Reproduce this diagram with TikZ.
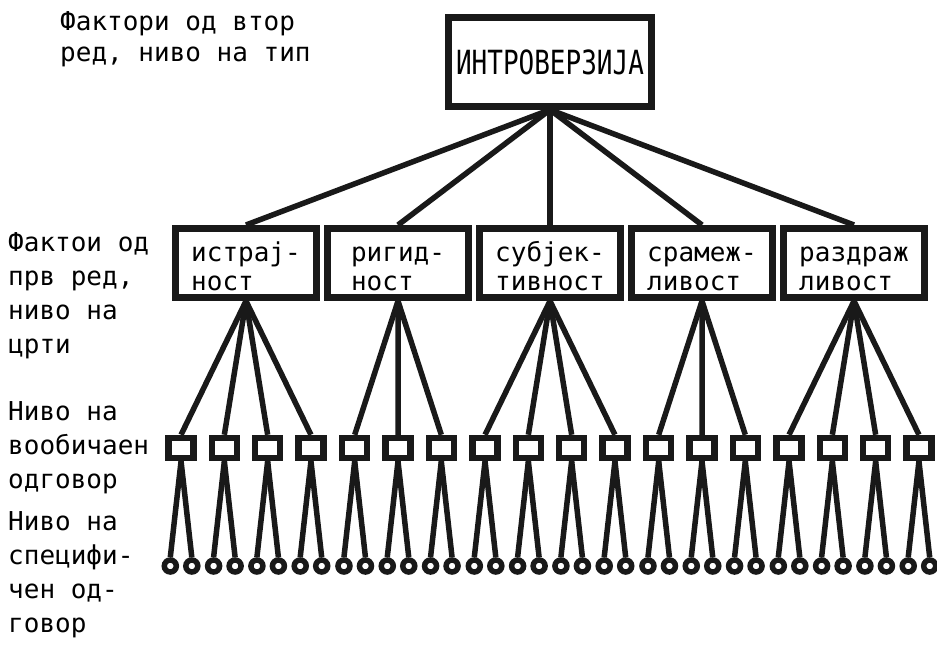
\documentclass[tikz,border=0pt]{standalone}
\usepackage{fontspec}
\usepackage{graphicx}
\usetikzlibrary{positioning,trees}
\newfontfamily\tw{DejaVu Sans Mono}
\newcommand{\tstrut}{\rule{0pt}{27pt}}
\newcommand{\bstrut}{\rule[-2pt]{0pt}{2pt}}

\begin{document}
\begin{tikzpicture}
        [x=1pt, y=-1pt, font=\tw\fontsize{26}{34}\selectfont,
        edge from parent/.style={draw=black!90, line width=5.5pt},
        edge from parent path={(\tikzparentnode.south) -- (\tikzchildnode.north)},
        typebox/.style={draw=black!90, line width=6.5pt, inner sep=0pt,
            minimum width=203pt, minimum height=89pt},
        traitbox/.style={draw=black!90, line width=7pt, inner sep=0pt, align=left,
            minimum width=141pt, minimum height=69pt,
            font=\tw\fontsize{26}{29}\selectfont},
        habitbox/.style={draw=black!90, line width=6.5pt, inner sep=0pt,
            minimum width=25pt, minimum height=20pt},
        specnode/.style={circle, draw=black!90, line width=5.5pt, inner sep=0pt,
            minimum size=12pt},
        lvllabel/.style={anchor=base west, align=left, inner sep=0pt},
        level 1/.style={level distance=201pt, sibling distance=152pt},
        level 2/.style={level distance=185pt, sibling distance=43.3pt},
        level 3/.style={level distance=118pt, sibling distance=21.5pt}]
        \useasboundingbox (0,0) rectangle (937,653);
        % labels of the levels (anchored at the last line)
        \node [lvllabel, font=\tw\fontsize{26}{31}\selectfont] (lbltype) at (60,61)
            {Фактори од втор\\ред, ниво на тип};
        \node [lvllabel] (lbltrait) at (8,353) {Фактои од\\прв ред,\\ниво на\\црти};
        \node [lvllabel] (lblhabit) at (8,488) {Ниво на\\вообичаен\\одговор};
        \node [lvllabel] (lblspec) at (8,632) {Ниво на\\специфи-\\чен од-\\говор};
        % the hierarchy
        \node [typebox] (introv) at (550,62) {\scalebox{1}[1.28]{ИНТРОВЕРЗИЈА}}
        child {
            node [traitbox] (istraj) {\tstrut истрај-\\ност\bstrut}
            child { node [habitbox] (hab1) {}
                child { node [specnode] (sp1) {} } child { node [specnode] (sp2) {} } }
            child { node [habitbox] (hab2) {}
                child { node [specnode] (sp3) {} } child { node [specnode] (sp4) {} } }
            child { node [habitbox] (hab3) {}
                child { node [specnode] (sp5) {} } child { node [specnode] (sp6) {} } }
            child { node [habitbox] (hab4) {}
                child { node [specnode] (sp7) {} } child { node [specnode] (sp8) {} } }
        }
        child {
            node [traitbox] (rigid) {\tstrut ригид-\\ност\bstrut}
            child { node [habitbox] (hab5) {}
                child { node [specnode] (sp9) {} } child { node [specnode] (sp10) {} } }
            child { node [habitbox] (hab6) {}
                child { node [specnode] (sp11) {} } child { node [specnode] (sp12) {} } }
            child { node [habitbox] (hab7) {}
                child { node [specnode] (sp13) {} } child { node [specnode] (sp14) {} } }
        }
        child {
            node [traitbox] (subjek) {\tstrut субјек-\\тивност\bstrut}
            child { node [habitbox] (hab8) {}
                child { node [specnode] (sp15) {} } child { node [specnode] (sp16) {} } }
            child { node [habitbox] (hab9) {}
                child { node [specnode] (sp17) {} } child { node [specnode] (sp18) {} } }
            child { node [habitbox] (hab10) {}
                child { node [specnode] (sp19) {} } child { node [specnode] (sp20) {} } }
            child { node [habitbox] (hab11) {}
                child { node [specnode] (sp21) {} } child { node [specnode] (sp22) {} } }
        }
        child {
            node [traitbox] (sramez) {\tstrut срамеж-\\ливост\bstrut}
            child { node [habitbox] (hab12) {}
                child { node [specnode] (sp23) {} } child { node [specnode] (sp24) {} } }
            child { node [habitbox] (hab13) {}
                child { node [specnode] (sp25) {} } child { node [specnode] (sp26) {} } }
            child { node [habitbox] (hab14) {}
                child { node [specnode] (sp27) {} } child { node [specnode] (sp28) {} } }
        }
        child {
            node [traitbox] (razdraz) {\tstrut раздраж\\ливост\bstrut}
            child { node [habitbox] (hab15) {}
                child { node [specnode] (sp29) {} } child { node [specnode] (sp30) {} } }
            child { node [habitbox] (hab16) {}
                child { node [specnode] (sp31) {} } child { node [specnode] (sp32) {} } }
            child { node [habitbox] (hab17) {}
                child { node [specnode] (sp33) {} } child { node [specnode] (sp34) {} } }
            child { node [habitbox] (hab18) {}
                child { node [specnode] (sp35) {} } child { node [specnode] (sp36) {} } }
        };
\end{tikzpicture}
\end{document}
